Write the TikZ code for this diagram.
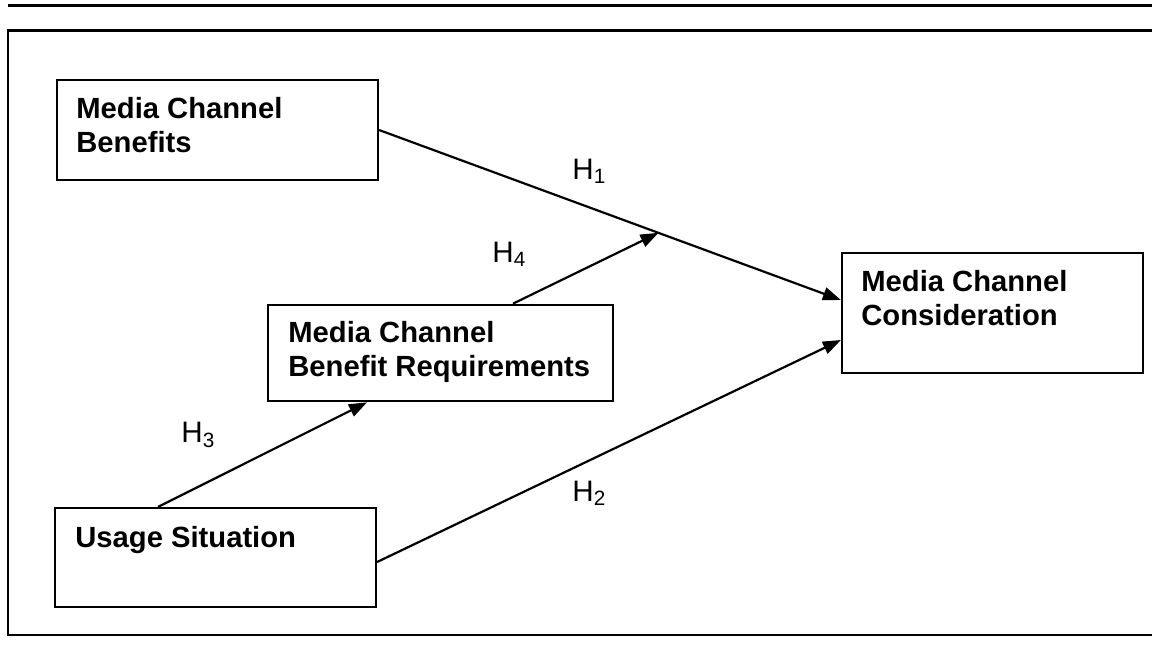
\documentclass[tikz,border=0pt]{standalone}
\usepackage{fontspec}
\setmainfont{Liberation Sans}
\usetikzlibrary{arrows.meta,calc}
\begin{document}
\begin{tikzpicture}[x=0.5pt,y=-0.5pt,
  box/.style 2 args={draw,line width=1.1pt,inner sep=0pt,minimum width=#1*0.5pt,minimum height=#2*0.5pt},
  lbl/.style={inner sep=0pt,anchor=base west,align=left,font=\fontsize{14.6}{16.75}\selectfont\bfseries},
  hlab/.style={inner sep=0pt,anchor=base west,font=\fontsize{14.8}{16.75}\selectfont},
  arr/.style={line width=1.1pt,-{Triangle[length=9pt,width=6.5pt]}}]
\useasboundingbox (0,0) rectangle (1152,645);
% rules and frame
\draw[line width=1.6pt] (8,5.5) -- (1152,5.5);
\draw[line width=1.1pt] (1152,30.5) -- (8,30.5) -- (8,635) -- (1152,635);
% boxes
\node[box={321}{100}] (b1) at (217.5,130) {};
\node[box={345}{96.5}] (b2) at (440.5,353) {};
\node[box={321}{99}] (b3) at (215.5,557.5) {};
\node[box={301}{120}] (b4) at (992.5,313) {};
% box texts (anchor at baseline of last line)
\node[lbl] (t1) at (76,152) {Media Channel\\Benefits};
\node[lbl] (t2) at (288,376) {Media Channel\\Benefit Requirements};
\node[lbl] (t3) at (75,547) {Usage Situation};
\node[lbl] (t4) at (861,325) {Media Channel\\Consideration};
% connectors
\coordinate (c4a) at (b4.west |- 0,300);
\coordinate (c4b) at (b4.west |- 0,340);
\draw[arr] (b1.east) -- (c4a);
\draw[arr] (b3.east |- 0,562) -- (c4b);
\draw[arr] (b3.north -| 158,0) -- (b2.south -| 367,0);
\coordinate (m) at ($(b1.east)!0.605!(c4a)$);
\draw[arr] (b2.north -| 513,0) -- (m);
% hypothesis labels
\node[hlab] (h1) at (572,179) {H\textsubscript{1}};
\node[hlab] (h4) at (492,262.5) {H\textsubscript{4}};
\node[hlab] (h3) at (181,442.5) {H\textsubscript{3}};
\node[hlab] (h2) at (572,501) {H\textsubscript{2}};
\end{tikzpicture}
\end{document}
